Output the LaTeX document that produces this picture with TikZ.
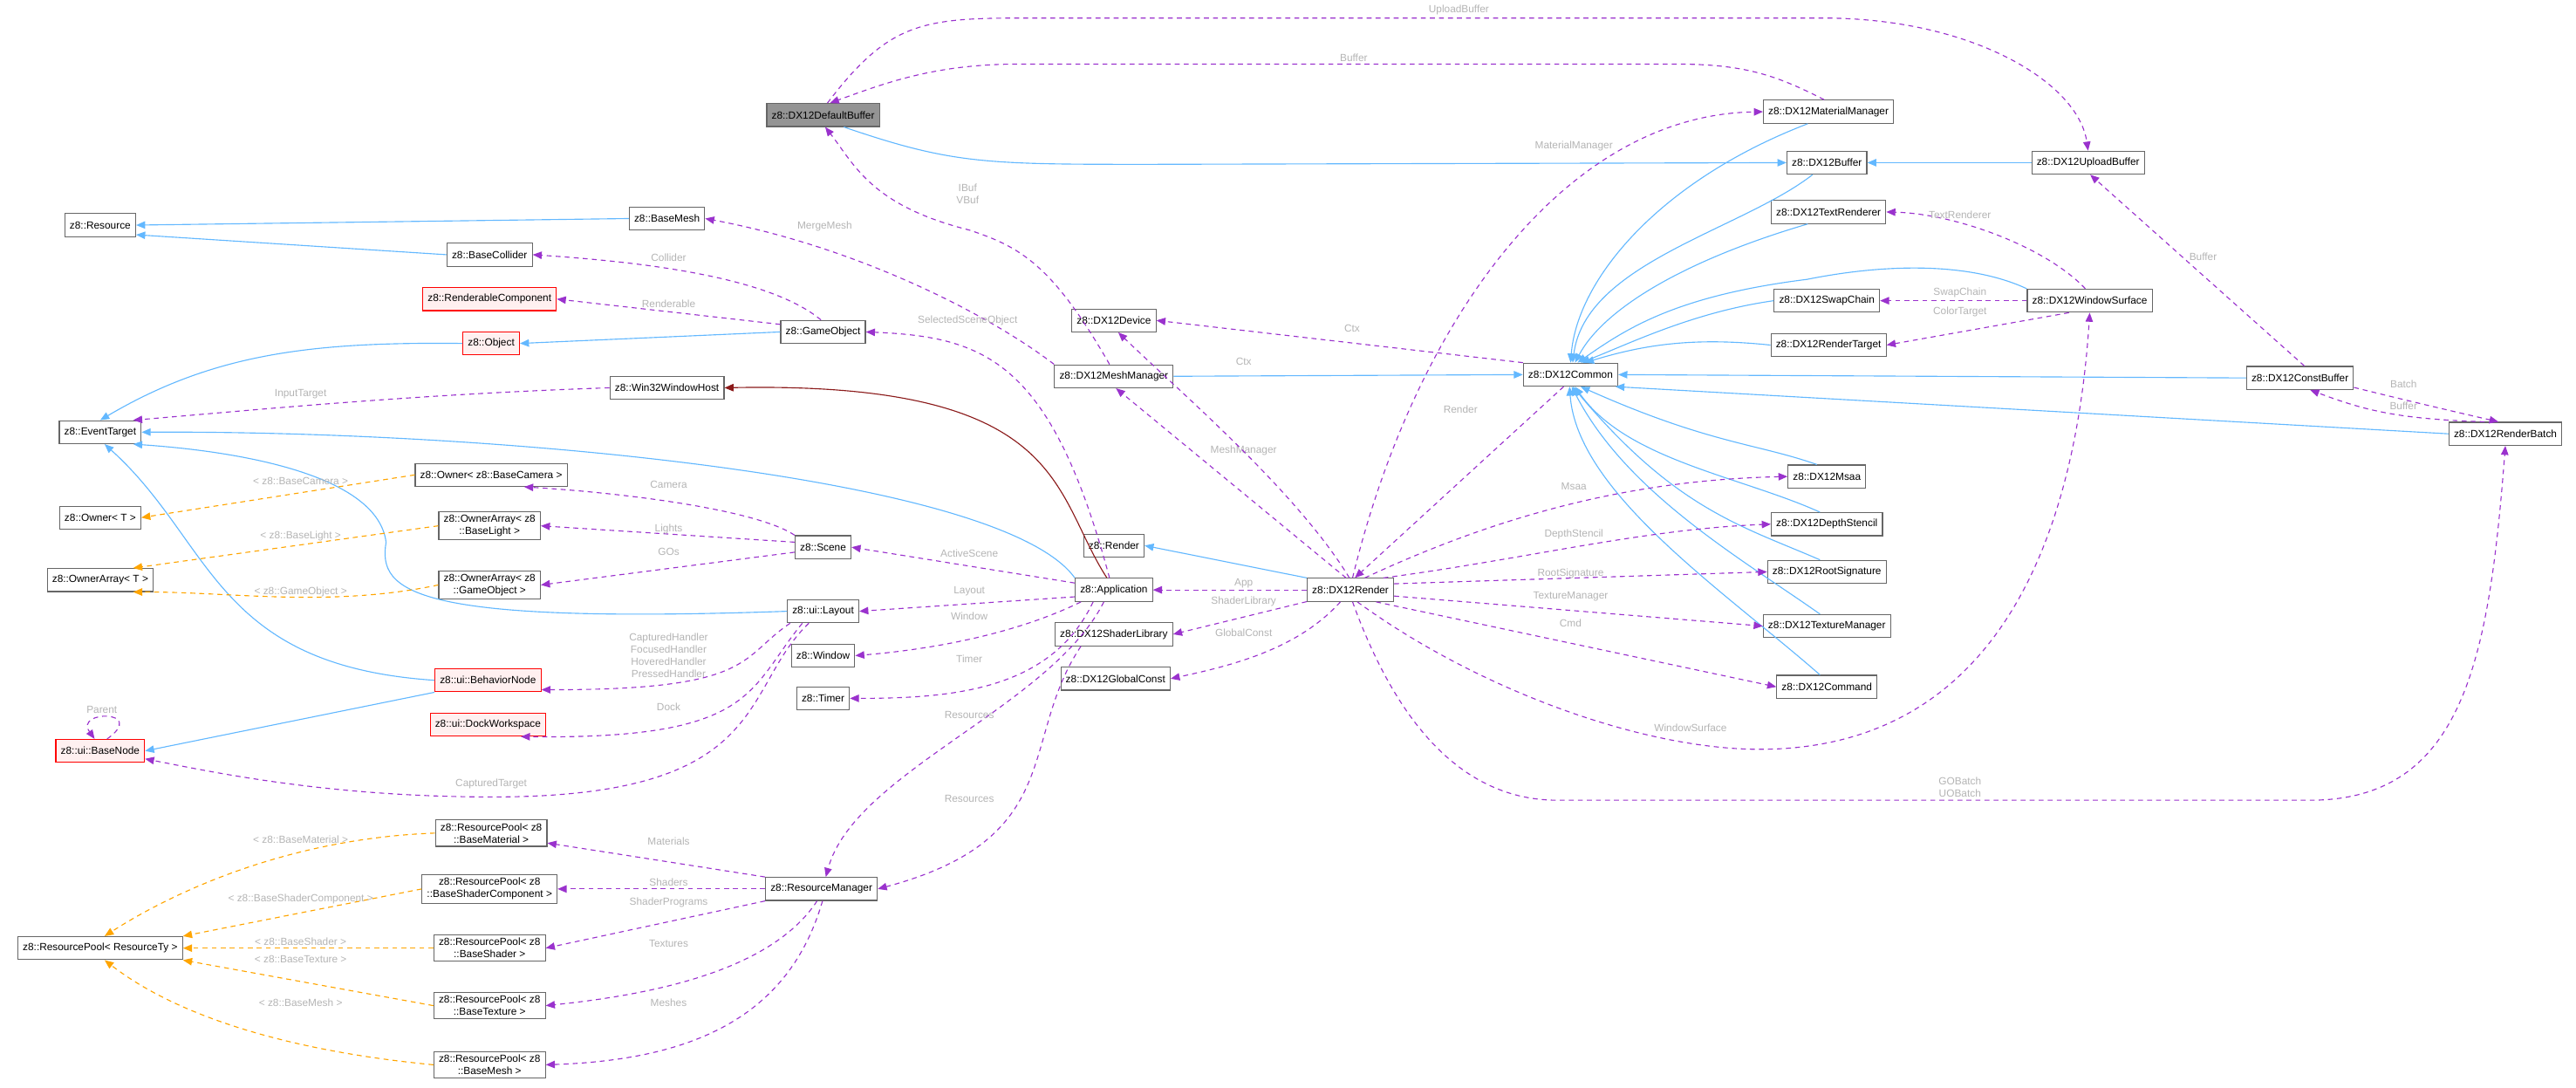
\documentclass[tikz,border=0pt]{standalone}
\usepackage{fontspec}
\setmainfont{Liberation Sans}
\usetikzlibrary{arrows.meta}
\definecolor{use}{HTML}{9A32CD}
\definecolor{inh}{HTML}{63B8FF}
\definecolor{tpl}{HTML}{FFA500}
\definecolor{prv}{HTML}{8B1A1A}
\definecolor{lbl}{HTML}{B4B4B4}
\newcommand{\lt}{\textless}
\newcommand{\gt}{\textgreater}
\begin{document}
\begin{tikzpicture}[x=1pt,y=-1pt,
  every node/.style={font=\fontsize{6.3}{7.4}\selectfont},
  n/.style={draw=black!60,fill=white,line width=0.6pt,minimum height=14pt,inner xsep=3pt,inner ysep=2pt,align=center},
  r/.style={n,draw=red,fill=red!6},
  tip/.style={-{Triangle[length=5.5pt,width=4.5pt]}},
  u/.style={tip,draw=use,line width=0.6pt,dash pattern=on 3pt off 2.5pt},
  ih/.style={tip,draw=inh,line width=0.6pt},
  tp/.style={tip,draw=tpl,line width=0.6pt,dash pattern=on 3pt off 2.5pt},
  pv/.style={tip,draw=prv,line width=0.6pt},
  l/.style={text=lbl,align=center,inner sep=0pt}]
\useasboundingbox (0,0) rectangle (1568,662);
% nodes
\node[n,fill=black!42] (DefBuf) at (501,70) {z8::DX12DefaultBuffer};
\node[n] (MatMgr) at (1113,68) {z8::DX12MaterialManager};
\node[n] (Buf) at (1112,99) {z8::DX12Buffer};
\node[n] (Upl) at (1271,99) {z8::DX12UploadBuffer};
\node[n] (TextR) at (1113,129) {z8::DX12TextRenderer};
\node[n] (Swap) at (1112,183) {z8::DX12SwapChain};
\node[n] (WinS) at (1272,183) {z8::DX12WindowSurface};
\node[n] (RT) at (1113,210) {z8::DX12RenderTarget};
\node[n] (Common) at (956,228) {z8::DX12Common};
\node[n] (Const) at (1400,230) {z8::DX12ConstBuffer};
\node[n] (Batch) at (1525,264) {z8::DX12RenderBatch};
\node[n] (Msaa) at (1112,290) {z8::DX12Msaa};
\node[n] (Depth) at (1112,319) {z8::DX12DepthStencil};
\node[n] (Root) at (1112,348) {z8::DX12RootSignature};
\node[n] (TexMgr) at (1112,381) {z8::DX12TextureManager};
\node[n] (Cmd) at (1112,418) {z8::DX12Command};
\node[n] (Device) at (678,195) {z8::DX12Device};
\node[n] (MeshMgr) at (678,229) {z8::DX12MeshManager};
\node[n] (Render) at (678,332) {z8::Render};
\node[n] (App) at (678,359) {z8::Application};
\node[n] (DXR) at (822,359) {z8::DX12Render};
\node[n] (ShLib) at (678,386) {z8::DX12ShaderLibrary};
\node[n] (GConst) at (679,413) {z8::DX12GlobalConst};
\node[n] (Resource) at (61,137) {z8::Resource};
\node[n] (BaseMesh) at (406,133) {z8::BaseMesh};
\node[n] (Coll) at (298,155) {z8::BaseCollider};
\node[r] (RendComp) at (298,182) {z8::RenderableComponent};
\node[r] (Obj) at (299,209) {z8::Object};
\node[n] (GO) at (501,202) {z8::GameObject};
\node[n] (Win32) at (406,236) {z8::Win32WindowHost};
\node[n] (ET) at (61,263) {z8::EventTarget};
\node[n] (OwnCam) at (299,289) {z8::Owner\lt{} z8::BaseCamera \gt};
\node[n] (OwnT) at (61,315) {z8::Owner\lt{} T \gt};
\node[n] (OALight) at (298,320) {z8::OwnerArray\lt{} z8\\::BaseLight \gt};
\node[n] (OAT) at (61,353) {z8::OwnerArray\lt{} T \gt};
\node[n] (OAGO) at (298,356) {z8::OwnerArray\lt{} z8\\::GameObject \gt};
\node[n] (Scene) at (501,333) {z8::Scene};
\node[n] (Layout) at (501,372) {z8::ui::Layout};
\node[n] (Window) at (501,399) {z8::Window};
\node[n] (Timer) at (501,425) {z8::Timer};
\node[r] (BehNode) at (297,414) {z8::ui::BehaviorNode};
\node[r] (Dock) at (297,441) {z8::ui::DockWorkspace};
\node[r] (BaseNode) at (61,457) {z8::ui::BaseNode};
\node[n] (RM) at (500,541) {z8::ResourceManager};
\node[n] (RPMat) at (299,507) {z8::ResourcePool\lt{} z8\\::BaseMaterial \gt};
\node[n] (RPSC) at (298,541) {z8::ResourcePool\lt{} z8\\::BaseShaderComponent \gt};
\node[n] (RPSh) at (298,577) {z8::ResourcePool\lt{} z8\\::BaseShader \gt};
\node[n] (RPTex) at (298,612) {z8::ResourcePool\lt{} z8\\::BaseTexture \gt};
\node[n] (RPMesh) at (298,648) {z8::ResourcePool\lt{} z8\\::BaseMesh \gt};
\node[n] (RPT) at (61,577) {z8::ResourcePool\lt{} ResourceTy \gt};
% inheritance
\draw[ih] (BaseMesh.west) -- (Resource.east);
\draw[ih] (Coll.west) -- (Resource.-15);
\draw[ih] (GO.west) -- (Obj.east);
\draw[ih] (Obj.west) .. controls (190,208) and (130,215) .. (ET.north);
\draw[ih] (App.north west) .. controls (610,290) and (300,262) .. (ET.east);
\draw[ih] (Layout.west) .. controls (250,380) and (230,360) .. (235,330) .. controls (230,290) and (150,275) .. (ET.-20);
\draw[ih] (BehNode.west) .. controls (130,405) and (130,330) .. (ET.-70);
\draw[ih] (BehNode.south west) -- (BaseNode.east);
\draw[ih] (DXR.north west) -- (Render.east);
\draw[ih] (DefBuf.-30) .. controls (580,100) and (600,100) .. (700,100) -- (Buf.west);
\draw[ih] (Upl.west) -- (Buf.east);
\draw[ih] (MeshMgr.east) -- (Common.west);
\draw[ih] (MatMgr.-150) .. controls (1010,110) and (960,170) .. (Common.north);
\draw[ih] (Buf.-140) .. controls (1060,140) and (965,160) .. (Common.80);
\draw[ih] (TextR.-150) .. controls (1020,160) and (975,190) .. (Common.70);
\draw[ih] (WinS.north west) .. controls (1200,160) and (1150,160) .. (1100,170) .. controls (1020,180) and (990,200) .. (Common.60);
\draw[ih] (Swap.west) .. controls (1030,190) and (990,210) .. (Common.50);
\draw[ih] (RT.west) .. controls (1030,205) and (1000,210) .. (Common.40);
\draw[ih] (Const.west) -- (Common.east);
\draw[ih] (Batch.west) -- (Common.-15);
\draw[ih] (Msaa.130) .. controls (1070,270) and (1040,270) .. (Common.-50);
\draw[ih] (Depth.120) .. controls (1060,290) and (990,280) .. (Common.-70);
\draw[ih] (Root.120) .. controls (1060,320) and (1020,310) .. (Common.-80);
\draw[ih] (TexMgr.120) .. controls (1060,340) and (990,300) .. (Common.-85);
\draw[ih] (Cmd.120) .. controls (1050,360) and (960,300) .. (Common.-95);
\draw[pv] (App.120) .. controls (640,300) and (650,232) .. (Win32.east);
% template instances
\draw[tp] (OwnCam.west) -- (OwnT.east);
\draw[tp] (OALight.west) -- (OAT.20);
\draw[tp] (OAGO.west) .. controls (200,370) and (140,360) .. (OAT.-20);
\draw[tp] (RPMat.west) .. controls (180,510) and (110,540) .. (RPT.70);
\draw[tp] (RPSC.west) -- (RPT.north east);
\draw[tp] (RPSh.west) -- (RPT.east);
\draw[tp] (RPTex.west) -- (RPT.south east);
\draw[tp] (RPMesh.west) .. controls (180,640) and (110,620) .. (RPT.-70);
\node[l] at (183,293) {\lt{} z8::BaseCamera \gt};
\node[l] at (183,326) {\lt{} z8::BaseLight \gt};
\node[l] at (183,360) {\lt{} z8::GameObject \gt};
\node[l] at (183,511) {\lt{} z8::BaseMaterial \gt};
\node[l] at (183,547) {\lt{} z8::BaseShaderComponent \gt};
\node[l] at (183,573) {\lt{} z8::BaseShader \gt};
\node[l] at (183,584) {\lt{} z8::BaseTexture \gt};
\node[l] at (183,610) {\lt{} z8::BaseMesh \gt};
% usage
\draw[u] (DefBuf.70) .. controls (540,15) and (560,11) .. (620,11) -- (1110,11) .. controls (1200,11) and (1265,50) .. (Upl.north);
\node[l] at (888,6) {UploadBuffer};
\draw[u] (MatMgr.110) .. controls (1080,45) and (1060,39) .. (1020,39) -- (620,39) .. controls (570,39) and (540,50) .. (DefBuf.60);
\node[l] at (824,35) {Buffer};
\draw[u] (MeshMgr.110) .. controls (640,160) and (620,150) .. (590,140) .. controls (530,125) and (520,100) .. (DefBuf.-80);
\node[l] at (589,118) {IBuf\\VBuf};
\draw[u] (MeshMgr.north west) .. controls (600,190) and (520,150) .. (BaseMesh.east);
\node[l] at (502,138) {MergeMesh};
\draw[u] (GO.100) .. controls (470,170) and (400,160) .. (Coll.east);
\node[l] at (407,157) {Collider};
\draw[u] (GO.170) -- (RendComp.east);
\node[l] at (407,185) {Renderable};
\draw[u] (Win32.west) .. controls (250,240) and (150,250) .. (ET.20);
\node[l] at (183,240) {InputTarget};
\draw[u] (Scene.north west) .. controls (460,310) and (380,300) .. (OwnCam.-20);
\node[l] at (407,295) {Camera};
\draw[u] (Scene.170) -- (OALight.east);
\node[l] at (407,322) {Lights};
\draw[u] (Scene.-170) -- (OAGO.east);
\node[l] at (407,336) {GOs};
\draw[u] (App.170) -- (Scene.east);
\node[l] at (590,337) {ActiveScene};
\draw[u] (App.110) .. controls (640,220) and (600,205) .. (GO.east);
\node[l] at (589,195) {SelectedSceneObject};
\draw[u] (App.-170) -- (Layout.east);
\node[l] at (590,360) {Layout};
\draw[u] (App.-160) .. controls (620,385) and (570,395) .. (Window.east);
\node[l] at (590,375) {Window};
\draw[u] (App.-150) .. controls (640,420) and (580,425) .. (Timer.east);
\node[l] at (590,401) {Timer};
\draw[u] (App.-130) .. controls (640,430) and (520,470) .. (RM.70);
\node[l] at (590,435) {Resources};
\draw[u] (ShLib.-160) .. controls (620,450) and (650,510) .. (RM.east);
\node[l] at (590,486) {Resources};
\draw[u] (Layout.-160) .. controls (450,400) and (460,420) .. (BehNode.-10);
\node[l] at (407,399) {CapturedHandler\\FocusedHandler\\HoveredHandler\\PressedHandler};
\draw[u] (Layout.-150) .. controls (455,420) and (460,450) .. (Dock.-20);
\node[l] at (407,430) {Dock};
\draw[u] (Layout.-140) .. controls (450,420) and (470,485) .. (300,485) .. controls (200,485) and (130,470) .. (BaseNode.-10);
\node[l] at (299,477) {CapturedTarget};
\draw[u] (BaseNode.60) .. controls (90,432) and (45,432) .. (BaseNode.115);
\node[l] at (62,432) {Parent};
\draw[u] (RM.north west) -- (RPMat.-10);
\node[l] at (407,512) {Materials};
\draw[u] (RM.west) -- (RPSC.east);
\node[l] at (407,537) {Shaders};
\draw[u] (RM.south west) -- (RPSh.east);
\node[l] at (407,549) {ShaderPrograms};
\draw[u] (RM.-110) .. controls (470,590) and (400,605) .. (RPTex.east);
\node[l] at (407,574) {Textures};
\draw[u] (RM.-85) .. controls (480,620) and (420,645) .. (RPMesh.east);
\node[l] at (407,610) {Meshes};
\draw[u] (DXR.west) -- (App.east);
\node[l] at (757,355) {App};
\draw[u] (DXR.-165) -- (ShLib.east);
\node[l] at (757,366) {ShaderLibrary};
\draw[u] (DXR.-130) .. controls (790,395) and (750,405) .. (GConst.east);
\node[l] at (757,385) {GlobalConst};
\draw[u] (DXR.110) -- (MeshMgr.-80);
\node[l] at (757,274) {MeshManager};
\draw[u] (DXR.95) .. controls (790,300) and (720,240) .. (Device.-70);
\node[l] at (757,220) {Ctx};
\draw[u] (Common.north west) -- (Device.east);
\node[l] at (823,200) {Ctx};
\draw[u] (DXR.80) .. controls (860,200) and (950,70) .. (MatMgr.west);
\node[l] at (958,89) {MaterialManager};
\draw[u] (Common.-120) -- (DXR.70);
\node[l] at (889,249) {Render};
\draw[u] (DXR.40) .. controls (920,310) and (1000,292) .. (Msaa.west);
\node[l] at (958,296) {Msaa};
\draw[u] (DXR.20) .. controls (930,340) and (1000,322) .. (Depth.west);
\node[l] at (958,325) {DepthStencil};
\draw[u] (DXR.8) -- (Root.west);
\node[l] at (956,349) {RootSignature};
\draw[u] (DXR.-8) -- (TexMgr.west);
\node[l] at (956,363) {TextureManager};
\draw[u] (DXR.-25) -- (Cmd.west);
\node[l] at (956,379) {Cmd};
\draw[u] (DXR.-60) .. controls (900,420) and (1000,456) .. (1071,456) .. controls (1230,456) and (1265,300) .. (WinS.south);
\node[l] at (1029,443) {WindowSurface};
\draw[u] (DXR.-80) .. controls (850,440) and (890,487) .. (948,487) -- (1406,487) .. controls (1500,487) and (1515,400) .. (Batch.south);
\node[l] at (1193,479) {GOBatch\\UOBatch};
\draw[u] (WinS.110) .. controls (1245,150) and (1190,130) .. (TextR.east);
\node[l] at (1193,131) {TextRenderer};
\draw[u] (WinS.west) -- (Swap.east);
\node[l] at (1193,178) {SwapChain};
\draw[u] (WinS.-150) -- (RT.east);
\node[l] at (1193,190) {ColorTarget};
\draw[u] (Const.70) -- (Upl.-80);
\node[l] at (1341,156) {Buffer};
\draw[u] (Const.-10) .. controls (1450,240) and (1470,245) .. (Batch.120);
\node[l] at (1463,234) {Batch};
\draw[u] (Batch.150) .. controls (1460,255) and (1440,250) .. (Const.-50);
\node[l] at (1463,247) {Buffer};
\end{tikzpicture}
\end{document}
